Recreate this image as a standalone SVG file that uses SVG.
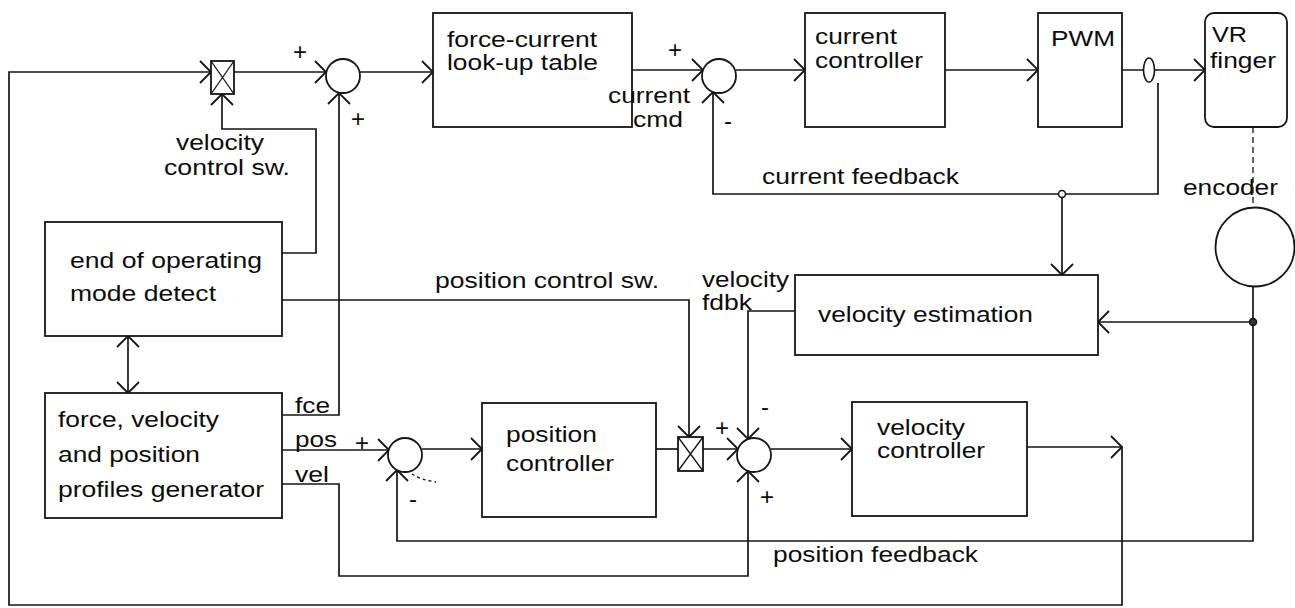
<svg xmlns="http://www.w3.org/2000/svg" width="1295" height="608" viewBox="0 0 1295 608">
  <style>
    .box { fill: #ffffff; stroke: #151515; stroke-width: 1.8; }
    .sum { fill: #ffffff; stroke: #151515; stroke-width: 1.8; }
    .wire { fill: none; stroke: #151515; stroke-width: 1.7; }
    .thin { fill: none; stroke: #151515; stroke-width: 1.3; }
    .lbl { font-family: "Liberation Sans", Arial, sans-serif; font-size: 22px; fill: #0d0d0d; }
    .sign { font-family: "Liberation Sans", Arial, sans-serif; font-size: 24px; fill: #0d0d0d; text-anchor: middle; }
  </style>
  <defs>
    <!-- open chevron arrowhead used on every signal line -->
    <marker id="arr" viewBox="-13 -13 15 26" refX="0" refY="0" markerWidth="15" markerHeight="26" markerUnits="userSpaceOnUse" orient="auto-start-reverse" overflow="visible">
      <path d="M-11,-11 L0,0 L-11,11" fill="none" stroke="#151515" stroke-width="1.8"/>
    </marker>
  </defs>

  <rect width="1295" height="608" fill="#ffffff"/>

  <!-- signal lines -->
  <g id="connectors">
    <!-- outer velocity loop back to the velocity switch -->
    <path class="wire" d="M1027,447 H1122" marker-end="url(#arr)"/>
    <path class="wire" d="M1122,447 V605 H9 V72 H211" marker-end="url(#arr)"/>
    <!-- velocity switch to first summing junction -->
    <path class="wire" d="M234,72 H326" marker-end="url(#arr)"/>
    <path class="wire" d="M360,72 H433" marker-end="url(#arr)"/>
    <!-- velocity control switch command -->
    <path class="wire" d="M282,253 H316 V129 H222 V94" marker-end="url(#arr)"/>
    <!-- force profile -->
    <path class="wire" d="M282,415 H339 V93" marker-end="url(#arr)"/>
    <!-- current command and current loop -->
    <path class="wire" d="M632,70 H703" marker-end="url(#arr)"/>
    <path class="wire" d="M736,70 H805" marker-end="url(#arr)"/>
    <path class="wire" d="M1158,83 V194 H713 V92" marker-end="url(#arr)"/>
    <path class="wire" d="M945,70 H1038" marker-end="url(#arr)"/>
    <path class="wire" d="M1122,70 H1205" marker-end="url(#arr)"/>
    <path class="wire" d="M1062,194 V275" marker-end="url(#arr)"/>
    <!-- encoder shaft -->
    <path class="thin" d="M1253,127 V208" stroke-dasharray="6 4"/>
    <!-- position feedback -->
    <path class="wire" d="M1253,287 V541 H397 V470" marker-end="url(#arr)"/>
    <path class="wire" d="M1253,322 H1098" marker-end="url(#arr)"/>
    <!-- velocity feedback -->
    <path class="wire" d="M795,311 H748 V439" marker-end="url(#arr)"/>
    <!-- position control switch command -->
    <path class="wire" d="M282,300 H689 V437" marker-end="url(#arr)"/>
    <!-- mode detect / profile generator link -->
    <path class="wire" d="M128,336 V393" marker-start="url(#arr)" marker-end="url(#arr)"/>
    <!-- position and velocity profiles -->
    <path class="wire" d="M282,450 H389" marker-end="url(#arr)"/>
    <path class="wire" d="M422,449 H482" marker-end="url(#arr)"/>
    <path class="wire" d="M656,449 H678"/>
    <path class="wire" d="M703,449 H738" marker-end="url(#arr)"/>
    <path class="wire" d="M771,449 H852" marker-end="url(#arr)"/>
    <path class="wire" d="M282,484 H339 V576 H748 V471" marker-end="url(#arr)"/>
    <!-- junction points -->
    <circle cx="1062" cy="194" r="3.5" fill="#ffffff" stroke="#151515" stroke-width="1.6"/>
    <circle cx="1253" cy="322" r="3.5" fill="#333333" stroke="#151515" stroke-width="1.6"/>
    <!-- faint dashed stroke beside the position summer -->
    <path class="thin" d="M412,474 Q421,480 436,482" stroke-dasharray="3 3"/>
  </g>

  <g id="velocity-switch">
    <rect class="box" x="211" y="61" width="23" height="33"/>
    <path class="thin" d="M211,61 L234,94 M234,61 L211,94"/>
  </g>

  <g id="force-summer">
    <circle class="sum" cx="343" cy="76" r="17"/>
  </g>

  <g id="force-current-table">
    <rect class="box" x="433" y="13" width="199" height="114"/>
    <text class="lbl" x="447" y="47" textLength="150" lengthAdjust="spacingAndGlyphs">force-current</text>
    <text class="lbl" x="447" y="70" textLength="151" lengthAdjust="spacingAndGlyphs">look-up table</text>
  </g>

  <g id="current-summer">
    <circle class="sum" cx="719" cy="76" r="17"/>
  </g>

  <g id="current-controller">
    <rect class="box" x="805" y="13" width="140" height="114"/>
    <text class="lbl" x="815" y="44" textLength="82" lengthAdjust="spacingAndGlyphs">current</text>
    <text class="lbl" x="815" y="68" textLength="108" lengthAdjust="spacingAndGlyphs">controller</text>
  </g>

  <g id="pwm">
    <rect class="box" x="1038" y="13" width="84" height="114"/>
    <text class="lbl" x="1051" y="46" font-size="23" textLength="64" lengthAdjust="spacingAndGlyphs">PWM</text>
  </g>

  <g id="current-sensor">
    <ellipse cx="1149" cy="70" rx="5.5" ry="12" fill="#ffffff" stroke="#151515" stroke-width="1.6"/>
  </g>

  <g id="vr-finger">
    <rect class="box" x="1205" y="13" width="82" height="114" rx="9" ry="9"/>
    <text class="lbl" x="1212" y="42" textLength="35" lengthAdjust="spacingAndGlyphs">VR</text>
    <text class="lbl" x="1210" y="68" textLength="66" lengthAdjust="spacingAndGlyphs">finger</text>
  </g>

  <g id="encoder">
    <circle class="sum" cx="1255" cy="247" r="39.5"/>
  </g>

  <g id="end-of-mode-detect">
    <rect class="box" x="45" y="222" width="237" height="114"/>
    <text class="lbl" x="70" y="268" textLength="192" lengthAdjust="spacingAndGlyphs">end of operating</text>
    <text class="lbl" x="70" y="301" textLength="146" lengthAdjust="spacingAndGlyphs">mode detect</text>
  </g>

  <g id="velocity-estimation">
    <rect class="box" x="795" y="275" width="303" height="80"/>
    <text class="lbl" x="818" y="322" textLength="215" lengthAdjust="spacingAndGlyphs">velocity estimation</text>
  </g>

  <g id="profile-generator">
    <rect class="box" x="45" y="393" width="237" height="125"/>
    <text class="lbl" x="58" y="427" textLength="161" lengthAdjust="spacingAndGlyphs">force, velocity</text>
    <text class="lbl" x="58" y="462" textLength="142" lengthAdjust="spacingAndGlyphs">and position</text>
    <text class="lbl" x="58" y="497" textLength="206" lengthAdjust="spacingAndGlyphs">profiles generator</text>
  </g>

  <g id="position-summer">
    <circle class="sum" cx="405" cy="455" r="17"/>
  </g>

  <g id="position-controller">
    <rect class="box" x="482" y="403" width="174" height="114"/>
    <text class="lbl" x="506" y="442" textLength="91" lengthAdjust="spacingAndGlyphs">position</text>
    <text class="lbl" x="506" y="471" textLength="108" lengthAdjust="spacingAndGlyphs">controller</text>
  </g>

  <g id="position-switch">
    <rect class="box" x="678" y="437" width="25" height="34"/>
    <path class="thin" d="M678,437 L703,471 M703,437 L678,471"/>
  </g>

  <g id="velocity-summer">
    <circle class="sum" cx="754" cy="455" r="17"/>
  </g>

  <g id="velocity-controller">
    <rect class="box" x="852" y="402" width="175" height="114"/>
    <text class="lbl" x="877" y="435" textLength="88" lengthAdjust="spacingAndGlyphs">velocity</text>
    <text class="lbl" x="877" y="458" textLength="108" lengthAdjust="spacingAndGlyphs">controller</text>
  </g>

  <!-- connector labels and signs, drawn last so they sit over box edges -->
  <g id="labels">
    <text class="lbl" x="176" y="150" textLength="88" lengthAdjust="spacingAndGlyphs">velocity</text>
    <text class="lbl" x="164" y="175" textLength="126" lengthAdjust="spacingAndGlyphs">control sw.</text>
    <text class="lbl" x="608" y="103" textLength="82" lengthAdjust="spacingAndGlyphs">current</text>
    <text class="lbl" x="633" y="127" textLength="50" lengthAdjust="spacingAndGlyphs">cmd</text>
    <text class="lbl" x="762" y="184" textLength="197" lengthAdjust="spacingAndGlyphs">current feedback</text>
    <text class="lbl" x="1183" y="195" textLength="95" lengthAdjust="spacingAndGlyphs">encoder</text>
    <text class="lbl" x="435" y="288" textLength="224" lengthAdjust="spacingAndGlyphs">position control sw.</text>
    <text class="lbl" x="702" y="287" textLength="87" lengthAdjust="spacingAndGlyphs">velocity</text>
    <text class="lbl" x="702" y="310" textLength="50" lengthAdjust="spacingAndGlyphs">fdbk</text>
    <text class="lbl" x="295" y="413" textLength="35" lengthAdjust="spacingAndGlyphs">fce</text>
    <text class="lbl" x="295" y="447" textLength="42" lengthAdjust="spacingAndGlyphs">pos</text>
    <text class="lbl" x="295" y="482" textLength="34" lengthAdjust="spacingAndGlyphs">vel</text>
    <text class="lbl" x="773" y="562" textLength="205" lengthAdjust="spacingAndGlyphs">position feedback</text>

    <text class="sign" x="300" y="60">+</text>
    <text class="sign" x="358" y="127">+</text>
    <text class="sign" x="675" y="58">+</text>
    <text class="sign" x="362" y="451">+</text>
    <text class="sign" x="722" y="436">+</text>
    <text class="sign" x="767" y="505">+</text>
    <text class="sign" x="728" y="129">-</text>
    <text class="sign" x="413" y="507">-</text>
    <text class="sign" x="765" y="415">-</text>
  </g>
</svg>
